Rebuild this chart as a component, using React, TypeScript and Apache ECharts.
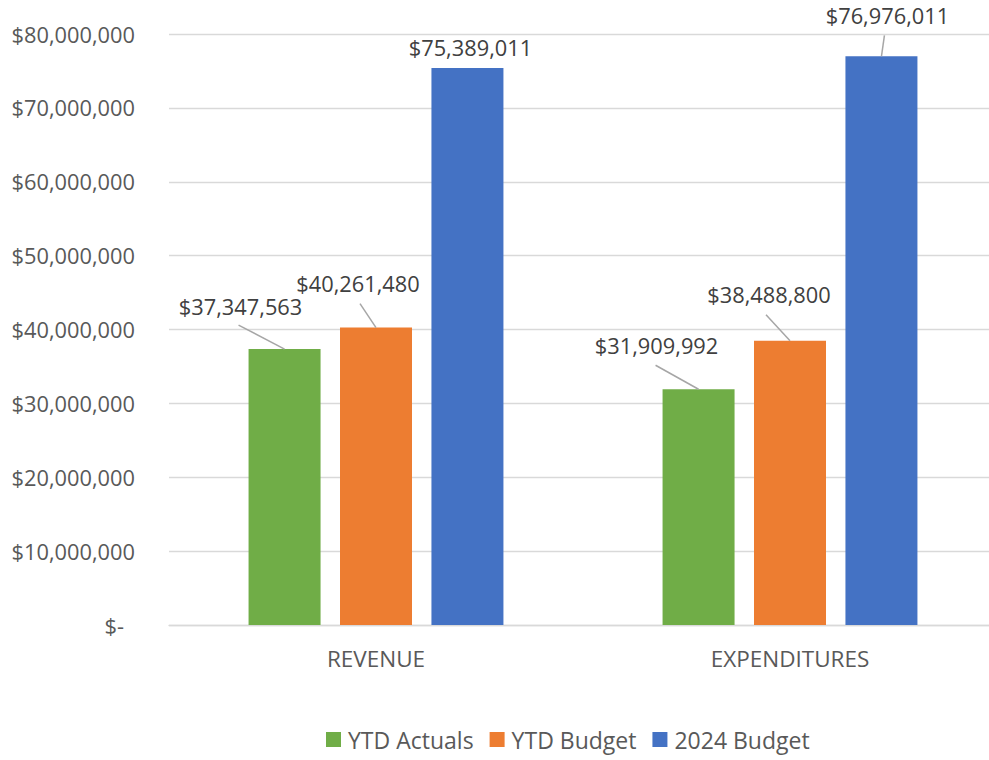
import React, { useEffect, useRef } from "react";
import * as echarts from "echarts";

const categories = ["REVENUE", "EXPENDITURES"];
const seriesNames = ["YTD Actuals", "YTD Budget", "2024 Budget"];
const ytdActuals = [37347563, 31909992];
const ytdBudget = [40261480, 38488800];
const budget2024 = [75389011, 76976011];
const colors = ["#70ad47", "#ed7d31", "#4472c4"];
// label offsets [series][category] -> [dx, dy] (layout only)
const labelOffsets = [
  [[-44, -27], [-42, -28]],
  [[-18, -28], [-21, -30]],
  [[3, -5], [6, -25]],
];
// leader line end offsets from bar top-centre [series][category] (layout only), null = no line
const leaderEnds: (number[] | null)[][] = [
  [[-46, -24], [-43, -24]],
  [[-16, -24], [-24, -26]],
  [null, [3, -21]],
];

const BAR_W = 72;
const BAR_GAP = 0.27;
const fmt = (v: number) => "$" + v.toLocaleString("en-US");
const FONT = "'Open Sans', 'Noto Sans', sans-serif";

export default function App() {
  const ref = useRef<HTMLDivElement>(null);
  useEffect(() => {
    const chart = echarts.init(ref.current!, undefined, { renderer: "svg" });
    const all = [ytdActuals, ytdBudget, budget2024];
    const leaderData: any[] = [];
    all.forEach((d, si) =>
      d.forEach((v, ci) => {
        if (leaderEnds[si][ci]) leaderData.push([ci, v, si]);
      })
    );
    chart.setOption({
      animation: false,
      textStyle: { fontFamily: FONT },
      grid: { left: 169, width: 828, top: 34, height: 591, containLabel: false, outerBoundsMode: "none" },
      legend: {
        left: 321,
        top: 723,
        padding: 5,
        itemWidth: 15,
        itemHeight: 15,
        itemGap: 16,
        icon: "rect",
        textStyle: { fontSize: 23, color: "#595959", fontFamily: FONT, padding: [0, 0, 0, 2] },
        data: seriesNames,
      },
      xAxis: {
        type: "category",
        data: categories,
        axisLine: { lineStyle: { color: "#d9d9d9", width: 1.3 } },
        axisTick: { show: false },
        axisLabel: { fontSize: 22.5, color: "#595959", margin: 22, fontFamily: FONT },
      },
      yAxis: {
        type: "value",
        min: 0,
        max: 80000000,
        interval: 10000000,
        axisLine: { show: false },
        axisTick: { show: false },
        splitLine: { lineStyle: { color: "#d9d9d9", width: 1.3 } },
        axisLabel: {
          fontSize: 21.8,
          color: "#595959",
          margin: 34,
          fontFamily: FONT,
          formatter: (v: number) => (v === 0 ? "{z|$-}" : fmt(v)),
          rich: { z: { fontSize: 21.8, color: "#595959", padding: [0, 11, 0, 0], fontFamily: FONT } },
        },
      },
      series: [
        ...all.map((d, si) => ({
          name: seriesNames[si],
          type: "bar",
          data: d,
          barWidth: BAR_W,
          barGap: BAR_GAP * 100 + "%",
          itemStyle: { color: colors[si] },
          z: 2,
          label: {
            show: true,
            position: "top",
            distance: 5,
            fontSize: 21.8,
            color: "#404040",
            fontFamily: FONT,
            formatter: (p: any) => fmt(p.value),
          },
          labelLayout: (p: any) => {
            const o = labelOffsets[si][p.dataIndex];
            return { dx: o[0], dy: o[1] };
          },
        })),
        {
          type: "custom",
          name: "leaders",
          data: leaderData,
          z: 3,
          silent: true,
          renderItem: (params: any, api: any) => {
            const ci = api.value(0);
            const v = api.value(1);
            const si = api.value(2);
            const pt = api.coord([ci, v]);
            const x = pt[0] + (si - 1) * BAR_W * (1 + BAR_GAP);
            const y = pt[1];
            const e = leaderEnds[si][ci] as number[];
            return {
              type: "line",
              shape: { x1: x, y1: y, x2: x + e[0], y2: y + e[1] },
              style: { stroke: "#a6a6a6", lineWidth: 1.5 },
            };
          },
        },
      ],
    });
    return () => chart.dispose();
  }, []);
  return <div ref={ref} style={{ width: 989, height: 760, position: "absolute", left: 0, top: 0 }} />;
}
